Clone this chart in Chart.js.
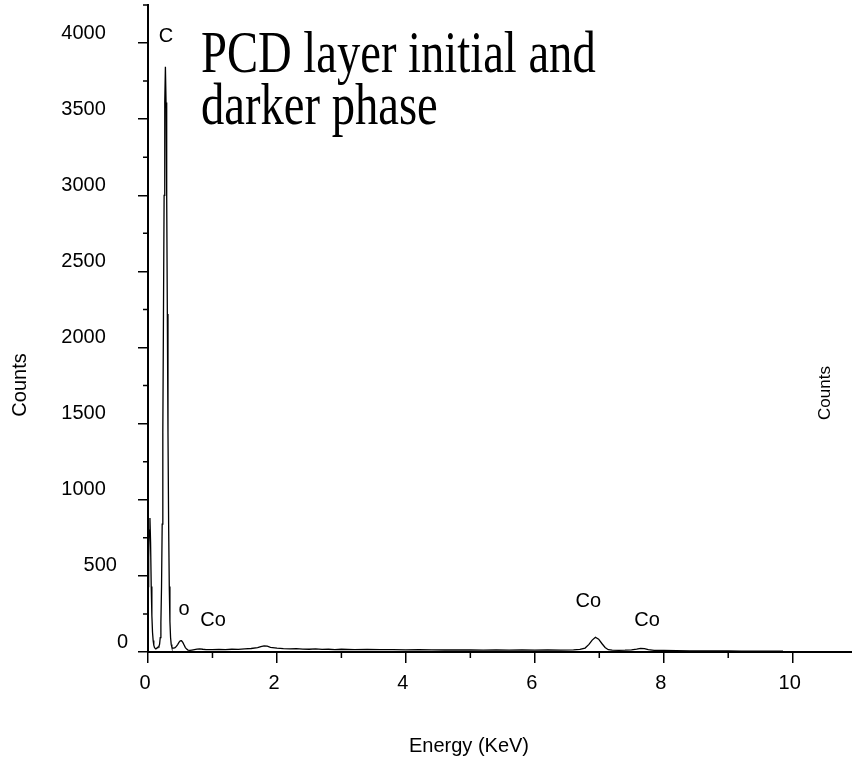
<!DOCTYPE html>
<html>
<head>
<meta charset="utf-8">
<script src="https://cdn.jsdelivr.net/npm/chart.js@4/dist/chart.umd.min.js"></script>
<style>
  html, body { margin: 0; padding: 0; background: #fff; overflow: hidden; }
  canvas { display: block; }
</style>
</head>
<body>
<canvas id="spectre" width="852" height="759"></canvas>
<script>
// spectre EDS : energie (keV) / coups
const energy = [
  0.00, 0.01, 0.02, 0.03, 0.04, 0.05, 0.06, 0.07, 0.08, 0.09,
  0.10, 0.11, 0.12, 0.13, 0.14, 0.15, 0.16, 0.17, 0.18, 0.19,
  0.20, 0.21, 0.22, 0.23, 0.24, 0.25, 0.26, 0.27, 0.28, 0.29,
  0.30, 0.31, 0.32, 0.33, 0.34, 0.35, 0.36, 0.37, 0.38, 0.40,
  0.42, 0.44, 0.46, 0.48, 0.50, 0.52, 0.54, 0.56, 0.58, 0.60,
  0.62, 0.65, 0.68, 0.72, 0.76, 0.80, 0.85, 0.90, 0.95, 1.00,
  1.1, 1.2, 1.3, 1.4, 1.5, 1.6, 1.7, 1.75, 1.8, 1.85,
  1.9, 2.0, 2.1, 2.2, 2.3, 2.4, 2.5, 2.6, 2.7, 2.8,
  2.9, 3.0, 3.2, 3.4, 3.6, 3.8, 4.0, 4.2, 4.4, 4.6,
  4.8, 5.0, 5.2, 5.4, 5.6, 5.8, 6.0, 6.2, 6.4, 6.6,
  6.7, 6.78, 6.84, 6.89, 6.94, 6.99, 7.04, 7.09, 7.14, 7.2,
  7.3, 7.4, 7.5, 7.58, 7.64, 7.7, 7.76, 7.85, 8.0, 8.2,
  8.4, 8.6, 8.8, 9.0, 9.2, 9.4, 9.6, 9.85
];
const counts = [
  430, 620, 800, 880, 720, 430, 240, 130, 75, 45,
  30, 24, 22, 24, 27, 30, 33, 38, 52, 95,
  190, 430, 840, 1440, 2220, 3000, 3610, 3845, 3610, 3000,
  2220, 1440, 840, 430, 200, 95, 50, 32, 26, 25,
  29, 37, 49, 63, 73, 74, 63, 46, 29, 19,
  13, 11, 13, 16, 19, 21, 18, 16, 15, 16,
  17, 15, 18, 17, 20, 23, 29, 36, 40, 38,
  31, 25, 22, 20, 22, 19, 18, 20, 17, 18,
  16, 18, 16, 17, 15, 16, 14, 15, 14, 13,
  14, 13, 12, 13, 12, 13, 12, 13, 12, 14,
  17, 26, 50, 78, 97, 84, 56, 30, 15, 12,
  11, 12, 14, 19, 24, 22, 15, 11, 10, 9,
  8, 8, 7, 7, 6, 6, 6, 5
];

// etiquettes des pics
const peakNames = ['C', 'o', 'Co', 'Co', 'Co'];
const peakEnergy = [0.28, 0.56, 1.01, 6.83, 7.74];
const peakCounts = [4046, 282, 210, 335, 204];

// graduations
const xTicks = [0, 2, 4, 6, 8, 10];
const yTicks = [0, 500, 1000, 1500, 2000, 2500, 3000, 3500, 4000];
const minorX = [1, 3, 5, 7, 9];
const minorY = [250, 750, 1250, 1750, 2250, 2750, 3250, 3750, 4250];

const sans = '"Liberation Sans", Arial, sans-serif';

const decor = {
  id: 'decor',
  afterDraw(chart) {
    const ctx = chart.ctx;
    const a = chart.chartArea;
    const x = chart.scales.x, y = chart.scales.y;
    ctx.save();
    ctx.strokeStyle = '#000';
    ctx.lineWidth = 1.5;
    ctx.beginPath();
    minorY.forEach(v => {
      const py = y.getPixelForValue(v);
      ctx.moveTo(a.left - 5, py);
      ctx.lineTo(a.left, py);
    });
    minorX.forEach(v => {
      const px = x.getPixelForValue(v);
      ctx.moveTo(px, a.bottom);
      ctx.lineTo(px, a.bottom + 6);
    });
    ctx.stroke();

    ctx.fillStyle = '#000';
    ctx.font = '20px ' + sans;
    ctx.textAlign = 'center';
    ctx.textBaseline = 'middle';
    peakNames.forEach((t, i) => {
      ctx.fillText(t, x.getPixelForValue(peakEnergy[i]), y.getPixelForValue(peakCounts[i]));
    });

    ctx.fillText('Energy (KeV)', 469, 746);

    ctx.save();
    ctx.translate(20, 385);
    ctx.rotate(-Math.PI / 2);
    ctx.fillText('Counts', 0, 0);
    ctx.restore();

    ctx.save();
    ctx.font = '17px ' + sans;
    ctx.translate(825, 393);
    ctx.rotate(-Math.PI / 2);
    ctx.fillText('Counts', 0, 0);
    ctx.restore();

    // titre
    ctx.save();
    ctx.font = '46.6px "Liberation Serif", "Times New Roman", serif';
    ctx.textAlign = 'left';
    ctx.textBaseline = 'alphabetic';
    ctx.translate(201, 72);
    ctx.scale(1, 1.27);
    ctx.fillText('PCD layer initial and', 0, 0);
    ctx.fillText('darker phase', 0, 52 / 1.27);
    ctx.restore();

    ctx.restore();
  }
};

const ctx = document.getElementById('spectre').getContext('2d');
const chart = new Chart(ctx, {
  type: 'line',
  data: {
    datasets: [{
      data: energy.map((e, i) => ({ x: e, y: counts[i] })),
      borderColor: '#000',
      borderWidth: 1.3,
      pointRadius: 0,
      fill: false,
      tension: 0
    }]
  },
  options: {
    responsive: false,
    animation: false,
    devicePixelRatio: 1,
    layout: { padding: { top: 5, left: 0, right: 0, bottom: 0 } },
    plugins: {
      legend: { display: false },
      tooltip: { enabled: false }
    },
    scales: {
      x: {
        type: 'linear',
        min: 0,
        max: 10.92,
        afterBuildTicks: s => { s.ticks = xTicks.map(v => ({ value: v })); },
        afterFit: s => { s.height = 107; s.paddingLeft = 0; s.paddingRight = 0; },
        ticks: {
          autoSkip: false,
          maxRotation: 0,
          padding: 8,
          labelOffset: -3,
          color: '#000',
          font: { family: sans, size: 20 }
        },
        grid: { drawOnChartArea: false, tickLength: 11, color: '#000', lineWidth: 1.5 },
        border: { color: '#000', width: 2 }
      },
      y: {
        min: 0,
        max: 4250,
        afterBuildTicks: s => { s.ticks = yTicks.map(v => ({ value: v })); },
        afterFit: s => { s.width = 148; s.paddingTop = 0; s.paddingBottom = 0; },
        ticks: {
          autoSkip: false,
          padding: 10,
          labelOffset: -10,
          color: '#000',
          font: { family: sans, size: 20 },
          callback: v => v === 0 ? '0' : (v < 1000 ? v + '  ' : v + '    ')
        },
        grid: { drawOnChartArea: false, tickLength: 10, color: '#000', lineWidth: 1.5 },
        border: { color: '#000', width: 2 }
      }
    }
  },
  plugins: [decor]
});
</script>
</body>
</html>
